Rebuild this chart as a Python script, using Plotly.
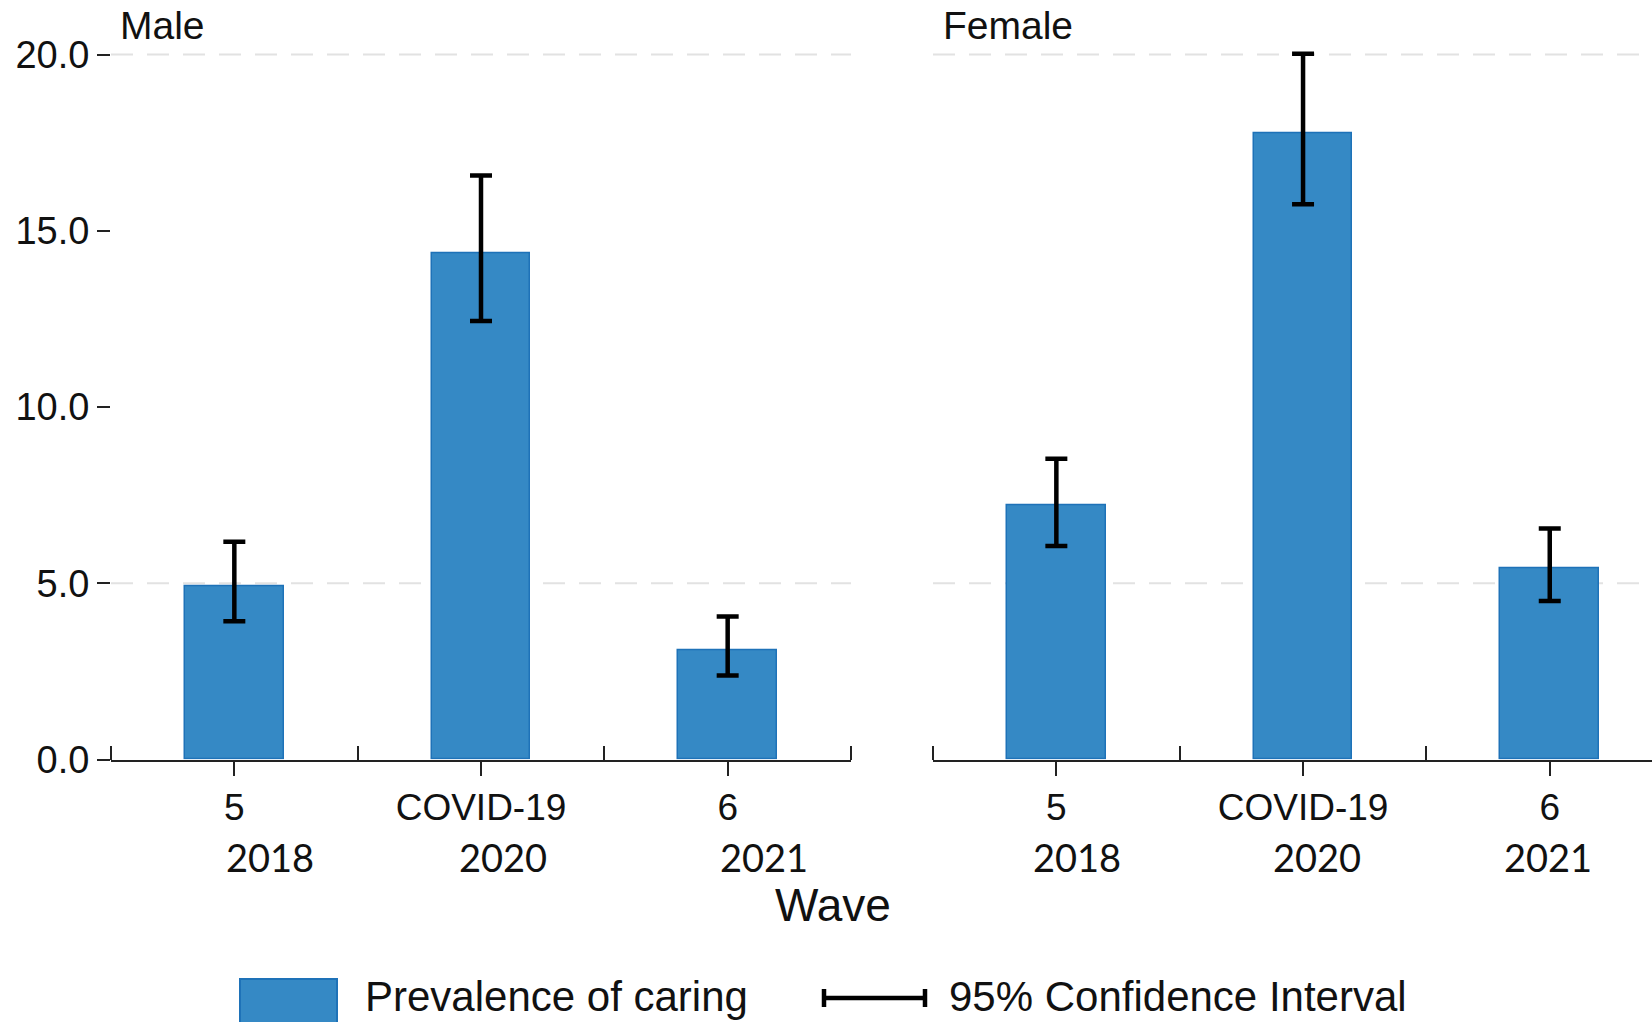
import plotly.graph_objects as go

# Prevalence of caring (%) by wave, with 95% confidence limits
waves = ["5", "COVID-19", "6"]
years = ["2018", "2020", "2021"]

male_prev = [4.91, 14.37, 3.10]
male_lo = [3.92, 12.44, 2.38]
male_hi = [6.18, 16.57, 4.06]

female_prev = [7.20, 17.77, 5.43]
female_lo = [6.06, 15.75, 4.50]
female_hi = [8.53, 20.02, 6.55]

y_ticks = [0, 5, 10, 15, 20]
grid_levels = [5, 20]

W, H = 1652, 1022
BAR_FILL = "#3589c5"
BAR_EDGE = "#1e72b8"
INK = "#111111"
AXIS = "#222222"
FONT = "Liberation Sans, Arial, sans-serif"
YEAR_FONT = "Lato, Carlito, sans-serif"

def px(x):
    return x / W

def py(y):
    return 1 - y / H

fig = go.Figure()

panels = [
    ("x", "y", male_prev, male_lo, male_hi),
    ("x2", "y2", female_prev, female_lo, female_hi),
]
for xa, ya, prev, lo, hi in panels:
    fig.add_trace(go.Bar(
        x=list(range(len(waves))), y=prev, xaxis=xa, yaxis=ya,
        width=0.4,
        marker=dict(color=BAR_FILL, line=dict(color=BAR_EDGE, width=1.5)),
        error_y=dict(
            type="data", symmetric=False,
            array=[h - v for h, v in zip(hi, prev)],
            arrayminus=[v - l for v, l in zip(prev, lo)],
            color="black", thickness=4.5, width=11,
        ),
        showlegend=False, hoverinfo="skip",
    ))

ydom = [(H - 759.5) / H, (H - 19.25) / H]
yrange = [0, 21]

common_x = dict(
    range=[-0.5, 2.5],
    tickmode="array", tickvals=list(range(len(waves))), ticktext=waves,
    ticks="outside", ticklen=14, tickwidth=1.5, tickcolor=AXIS,
    showline=True, linecolor=AXIS, linewidth=2,
    showgrid=False, zeroline=False, automargin=False,
    tickfont=dict(family=FONT, size=37, color=INK),
    minor=dict(tickmode="array", tickvals=[-0.5, 0.5, 1.5, 2.5],
               ticks="inside", ticklen=14, tickwidth=1.5, tickcolor=AXIS,
               showgrid=False),
    fixedrange=True,
)

fig.update_layout(
    width=W, height=H, autosize=False,
    margin=dict(l=0, r=0, t=0, b=0, pad=0, autoexpand=False),
    paper_bgcolor="white", plot_bgcolor="white",
    showlegend=False,
    bargap=0,
    xaxis=dict(common_x, domain=[px(111), px(851)]),
    xaxis2=dict(common_x, domain=[px(933), 1.0],
                range=[-0.5, -0.5 + (W - 933) / 246.7]),
    yaxis=dict(
        domain=ydom, range=yrange,
        tickmode="array", tickvals=y_ticks, tickformat=".1f",
        ticks="outside", ticklen=13, tickwidth=1.5, tickcolor=AXIS,
        showline=False, showgrid=False, zeroline=False, automargin=False,
        tickfont=dict(family=FONT, size=38, color=INK),
        fixedrange=True,
    ),
    yaxis2=dict(
        domain=ydom, range=yrange, anchor="x2",
        showticklabels=False, ticks="", showline=False, automargin=False,
        showgrid=False, zeroline=False, fixedrange=True,
    ),
)
fig.update_layout(xaxis2_anchor="y2")

# dashed reference lines
shapes = []
for xd, ya in [("x domain", "y"), ("x2 domain", "y2")]:
    for g in grid_levels:
        shapes.append(dict(
            type="line", xref=xd, yref=ya, x0=0, x1=1, y0=g, y1=g,
            line=dict(color="#e2e2e2", width=2, dash="22px,14px"),
            layer="below",
        ))

annotations = []
# panel titles
annotations.append(dict(text="Male", x=px(118), y=py(26), xref="paper", yref="paper",
                        xanchor="left", yanchor="middle", showarrow=False,
                        font=dict(family=FONT, size=39, color=INK)))
annotations.append(dict(text="Female", x=px(941), y=py(26), xref="paper", yref="paper",
                        xanchor="left", yanchor="middle", showarrow=False,
                        font=dict(family=FONT, size=39, color=INK)))

# survey year under each wave label
year_shift = {"x": [0.145, 0.091, 0.147], "x2": [0.084, 0.057, -0.009]}
for xa in ["x", "x2"]:
    for i, yr in enumerate(years):
        annotations.append(dict(
            text=yr, x=i + year_shift[xa][i], y=py(857), xref=xa, yref="paper",
            xanchor="center", yanchor="middle", showarrow=False,
            font=dict(family=YEAR_FONT, size=38, color=INK)))

annotations.append(dict(text="Wave", x=px(833), y=py(905), xref="paper", yref="paper",
                        xanchor="center", yanchor="middle", showarrow=False,
                        font=dict(family=FONT, size=46, color=INK)))

# legend drawn below the panels
shapes.append(dict(type="rect", xref="paper", yref="paper",
                   x0=px(240), x1=px(337), y0=py(1030), y1=py(979),
                   fillcolor=BAR_FILL, line=dict(color=BAR_EDGE, width=2)))
shapes.append(dict(type="line", xref="paper", yref="paper",
                   x0=px(824), x1=px(925), y0=py(998), y1=py(998),
                   line=dict(color="black", width=4.5)))
for xc in (824, 925):
    shapes.append(dict(type="line", xref="paper", yref="paper",
                       x0=px(xc), x1=px(xc), y0=py(989), y1=py(1007),
                       line=dict(color="black", width=4.5)))
annotations.append(dict(text="Prevalence of caring", x=px(363), y=py(996),
                        xref="paper", yref="paper", xanchor="left", yanchor="middle",
                        showarrow=False, font=dict(family=FONT, size=42, color=INK)))
annotations.append(dict(text="95% Confidence Interval", x=px(947), y=py(996),
                        xref="paper", yref="paper", xanchor="left", yanchor="middle",
                        showarrow=False, font=dict(family=FONT, size=42, color=INK)))

fig.update_layout(shapes=shapes, annotations=annotations)

fig.write_html("out.html")
